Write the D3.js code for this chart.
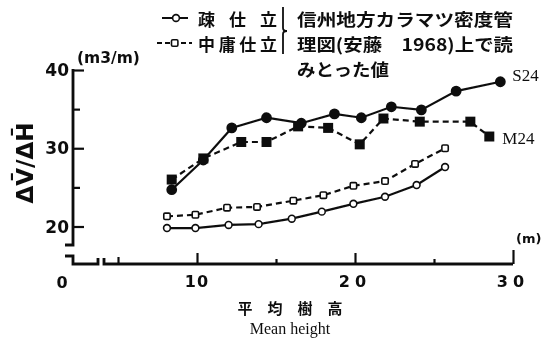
<!DOCTYPE html>
<html>
<head>
<meta charset="utf-8">
<script src="https://cdn.jsdelivr.net/npm/d3@7"></script>
<style>
  html, body { margin: 0; padding: 0; background: #fff; }
  svg { display: block; }
</style>
</head>
<body>
<svg id="chart" width="548" height="343"></svg>
<script>
// Mean stand height (m) and volume increment per height increment ΔV̄/ΔH̄ (m3/m)
const heightS24 = [8.4, 10.4, 12.2, 14.4, 16.6, 18.7, 20.4, 22.3, 24.2, 26.4, 29.2];
const valueS24  = [24.7, 28.5, 32.6, 33.9, 33.2, 34.4, 33.9, 35.3, 34.9, 37.3, 38.5];

const heightM24 = [8.4, 10.4, 12.8, 14.4, 16.4, 18.3, 20.3, 21.8, 24.1, 27.3, 28.5];
const valueM24  = [26.0, 28.7, 30.8, 30.8, 32.8, 32.6, 30.5, 33.8, 33.4, 33.4, 31.5];

// 疎仕立 (sparse) and 中庸仕立 (medium) from the density management chart
const heightSparse = [8.1, 9.9, 12.0, 13.9, 16.0, 17.9, 19.9, 21.9, 23.9, 25.7];
const valueSparse  = [19.8, 19.8, 20.2, 20.3, 21.0, 21.9, 22.9, 23.8, 25.3, 27.6];

const heightMedium = [8.1, 9.9, 11.9, 13.8, 16.1, 18.0, 19.9, 21.9, 23.8, 25.7];
const valueMedium  = [21.3, 21.5, 22.4, 22.5, 23.3, 24.0, 25.2, 25.8, 28.0, 30.0];

const xTicks = [5, 10, 15, 20, 25, 30];
const xTickLabels = [10, 20, 30];
const yTicks = [20, 25, 30, 35, 40];
const yTickLabels = [20, 30, 40];

const legendRows = ["疎 仕 立", "中庸仕立"];
const noteLines = ["信州地方カラマツ密度管", "理図(安藤　1968)上で読", "みとった値"];

const svg = d3.select("#chart");
const ink = "#111";
const sans = "'DejaVu Sans', sans-serif";
const serif = "'Liberation Serif', 'DejaVu Serif', serif";
const cjk = "'Noto Sans CJK JP', sans-serif";

const x = d3.scaleLinear().domain([0, 30]).range([39, 513]);
const y = d3.scaleLinear().domain([20, 40]).range([226.5, 70]);

const axisX = 73;      // vertical axis position (broken origin)
const axisY = 264;     // horizontal axis position

const defs = svg.append("defs");
defs.append("filter").attr("id", "soft")
  .append("feGaussianBlur").attr("stdDeviation", 0.35);
const g = svg.append("g").attr("filter", "url(#soft)");

// ---- Y axis (upper part, 20..40) ----
const yAxis = d3.axisLeft(y).tickValues(yTicks).tickSize(0).tickFormat("");
const yg = g.append("g").attr("transform", `translate(${axisX},0)`).call(yAxis);
yg.select(".domain").remove();
yg.selectAll(".tick line")
  .attr("x1", 0)
  .attr("x2", d => yTickLabels.includes(d) ? 11 : 7)
  .attr("stroke", ink).attr("stroke-width", 2.2);
g.append("path")
  .attr("d", `M${axisX},${y(40) - 1}V245H${axisX - 8}`)
  .attr("fill", "none").attr("stroke", ink).attr("stroke-width", 2.8);
g.selectAll(".ylab").data(yTickLabels).join("text")
  .attr("x", axisX - 4).attr("y", d => y(d))
  .attr("text-anchor", "end").attr("dominant-baseline", "central")
  .attr("font-family", sans).attr("font-weight", "bold").attr("font-size", 17)
  .attr("fill", ink).text(d => d);

// ---- X axis with break near the origin ----
const xAxis = d3.axisBottom(x).tickValues(xTicks).tickSize(0).tickFormat("");
const xg = g.append("g").attr("transform", `translate(0,${axisY})`).call(xAxis);
xg.select(".domain").remove();
xg.selectAll(".tick line")
  .attr("y1", 0)
  .attr("y2", d => d === 30 ? -14 : (d % 10 === 0 ? -11 : (d === 5 ? -7 : -5)))
  .attr("stroke", ink).attr("stroke-width", 2.2);
g.append("path")
  .attr("d", `M${axisX - 8},256H${axisX}V${axisY}H98V258M104,258V${axisY}H${x(30)}`)
  .attr("fill", "none").attr("stroke", ink).attr("stroke-width", 2.8);
g.selectAll(".xlab").data(xTickLabels).join("text")
  .attr("x", d => x(d)).attr("y", 281)
  .attr("text-anchor", "middle").attr("dominant-baseline", "central")
  .attr("font-family", sans).attr("font-weight", "bold").attr("font-size", 16)
  .attr("letter-spacing", d => d === 10 ? 1 : 5)
  .attr("fill", ink).text(d => d);
g.append("text").attr("x", 62).attr("y", 282)
  .attr("text-anchor", "middle").attr("dominant-baseline", "central")
  .attr("font-family", sans).attr("font-weight", "bold").attr("font-size", 16)
  .attr("fill", ink).text("0");

// ---- units and axis titles ----
g.append("text").attr("x", 77).attr("y", 58)
  .attr("font-family", sans).attr("font-weight", "bold").attr("font-size", 15.5)
  .attr("dominant-baseline", "central").attr("fill", ink).text("(m3/m)");
g.append("text").attr("x", 516).attr("y", 238)
  .attr("font-family", sans).attr("font-weight", "bold").attr("font-size", 13)
  .attr("dominant-baseline", "central").attr("fill", ink).text("(m)");
g.append("text")
  .attr("transform", "translate(25,163) rotate(-90)")
  .attr("text-anchor", "middle").attr("dominant-baseline", "central")
  .attr("font-family", sans).attr("font-weight", "bold").attr("font-size", 23)
  .attr("fill", ink).text("ΔV\u0304/ΔH\u0304");
g.append("text").attr("x", 290).attr("y", 307)
  .attr("text-anchor", "middle").attr("dominant-baseline", "central")
  .attr("font-family", cjk).attr("font-weight", "bold").attr("font-size", 15)
  .attr("fill", ink).text("平　均　樹　高");
g.append("text").attr("x", 290).attr("y", 328)
  .attr("text-anchor", "middle").attr("dominant-baseline", "central")
  .attr("font-family", serif).attr("font-size", 16)
  .attr("fill", ink).text("Mean height");

// ---- series ----
const line = d3.line().x(d => x(d[0])).y(d => y(d[1]));
const zip = (a, b) => a.map((v, i) => [v, b[i]]);

const series = [
  { pts: zip(heightS24, valueS24), dash: null, marker: "circle", fill: ink, r: 4.6 },
  { pts: zip(heightM24, valueM24), dash: "6,4", marker: "square", fill: ink, r: 4.2 },
  { pts: zip(heightSparse, valueSparse), dash: null, marker: "circle", fill: "#fff", r: 3.4 },
  { pts: zip(heightMedium, valueMedium), dash: "6,4", marker: "square", fill: "#fff", r: 3.2 }
];

series.forEach(s => {
  g.append("path").datum(s.pts).attr("d", line)
    .attr("fill", "none").attr("stroke", ink).attr("stroke-width", 2.2)
    .attr("stroke-dasharray", s.dash);
  const m = g.append("g").selectAll("*").data(s.pts);
  if (s.marker === "circle") {
    m.join("circle").attr("cx", d => x(d[0])).attr("cy", d => y(d[1]))
      .attr("r", s.r).attr("fill", s.fill).attr("stroke", ink).attr("stroke-width", 1.6);
  } else {
    m.join("rect").attr("x", d => x(d[0]) - s.r).attr("y", d => y(d[1]) - s.r)
      .attr("width", s.r * 2).attr("height", s.r * 2)
      .attr("rx", s.fill === ink ? 0 : 1.2)
      .attr("fill", s.fill).attr("stroke", ink).attr("stroke-width", 1.6);
  }
});

// series end labels
g.append("text").attr("x", x(heightS24[heightS24.length - 1]) + 12)
  .attr("y", y(valueS24[valueS24.length - 1]) - 6)
  .attr("dominant-baseline", "central").attr("font-family", serif).attr("font-size", 17)
  .attr("fill", ink).text("S24");
g.append("text").attr("x", x(heightM24[heightM24.length - 1]) + 13)
  .attr("y", y(valueM24[valueM24.length - 1]) + 2)
  .attr("dominant-baseline", "central").attr("font-family", serif).attr("font-size", 17)
  .attr("fill", ink).text("M24");

// ---- legend ----
const rowY = [18, 43, 68];
legendRows.forEach((t, i) => {
  const ly = rowY[i];
  g.append("line").attr("x1", i ? 157 : 162).attr("x2", i ? 192 : 188)
    .attr("y1", ly).attr("y2", ly).attr("stroke", ink).attr("stroke-width", 2)
    .attr("stroke-dasharray", i ? "5,3" : null);
  if (i === 0) {
    g.append("circle").attr("cx", 176).attr("cy", ly).attr("r", 3.4)
      .attr("fill", "#fff").attr("stroke", ink).attr("stroke-width", 1.6);
  } else {
    g.append("rect").attr("x", 171.5).attr("y", ly - 3.2).attr("width", 6.4).attr("height", 6.4)
      .attr("rx", 1.2).attr("fill", "#fff").attr("stroke", ink).attr("stroke-width", 1.6);
  }
  g.append("text").attr("x", 198).attr("y", ly)
    .attr("dominant-baseline", "central").attr("font-family", cjk).attr("font-weight", "bold")
    .attr("font-size", 17).attr("textLength", 79).attr("lengthAdjust", "spacing")
    .attr("fill", ink).text(t);
});
g.append("path")
  .attr("d", "M283,7V28Q283,31 287,31Q283,31 283,34V54")
  .attr("fill", "none").attr("stroke", ink).attr("stroke-width", 1.8);
noteLines.forEach((t, i) => {
  g.append("text").attr("x", 297).attr("y", rowY[i])
    .attr("dominant-baseline", "central").attr("font-family", cjk).attr("font-weight", "bold")
    .attr("font-size", 17)
    .attr("textLength", i === 2 ? 92 : 216).attr("lengthAdjust", "spacingAndGlyphs")
    .attr("fill", ink).text(t);
});
</script>
</body>
</html>
